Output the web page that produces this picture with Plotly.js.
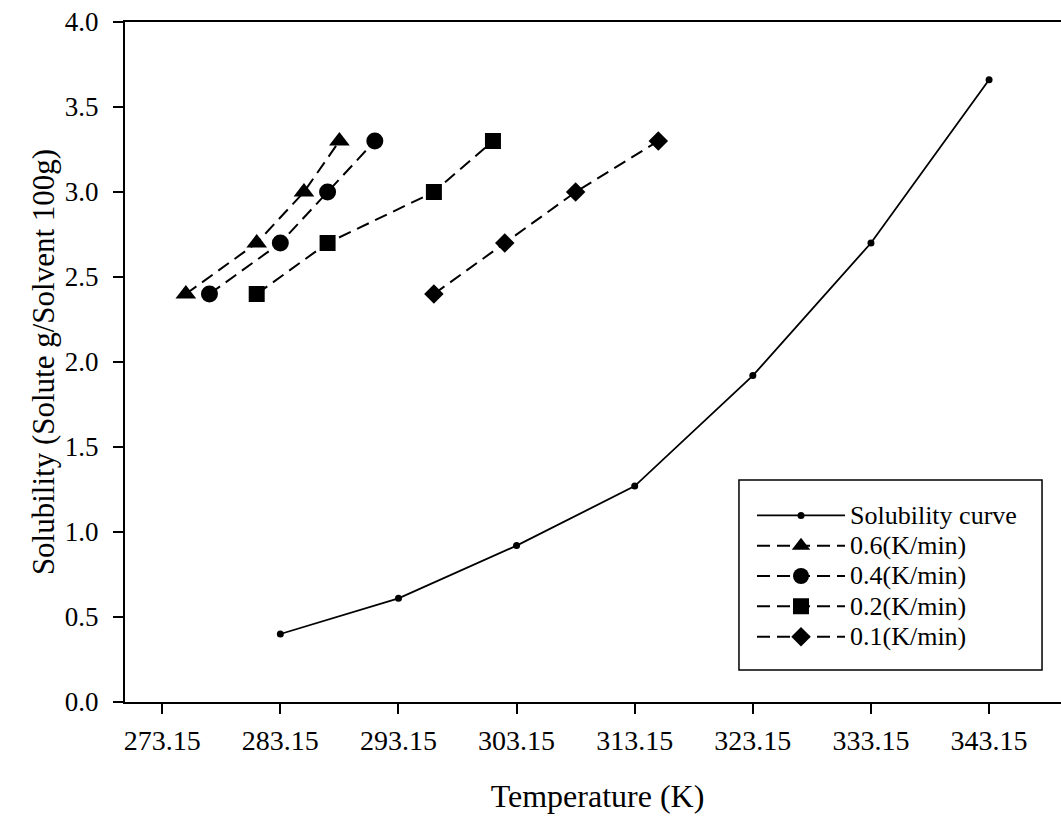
<!DOCTYPE html>
<html>
<head>
<meta charset="utf-8">
<script src="https://cdn.plot.ly/plotly-3.0.1.min.js"></script>
<style>
html, body { margin: 0; padding: 0; overflow: hidden; background: #fff; }
#chart { width: 1075px; height: 818px; }
</style>
</head>
<body>
<div id="chart"></div>
<script>
// Data
const solT = [283.15, 293.15, 303.15, 313.15, 323.15, 333.15, 343.15];
const solS = [0.40, 0.61, 0.92, 1.27, 1.92, 2.70, 3.66];

const r06T = [275.15, 281.15, 285.15, 288.15];
const r06S = [2.4, 2.7, 3.0, 3.3];

const r04T = [277.15, 283.15, 287.15, 291.15];
const r04S = [2.4, 2.7, 3.0, 3.3];

const r02T = [281.15, 287.15, 296.15, 301.15];
const r02S = [2.4, 2.7, 3.0, 3.3];

const r01T = [296.15, 302.15, 308.15, 315.15];
const r01S = [2.4, 2.7, 3.0, 3.3];

const seriesNames = ['Solubility curve', '0.6(K/min)', '0.4(K/min)', '0.2(K/min)', '0.1(K/min)'];
const xTicks = [273.15, 283.15, 293.15, 303.15, 313.15, 323.15, 333.15, 343.15];
const yTicks = [0.0, 0.5, 1.0, 1.5, 2.0, 2.5, 3.0, 3.5, 4.0];

const FONT = 'Liberation Serif, Times New Roman, serif';
const dash = '13px,7px';

function legendText(s) {
  return '<span style="font-size:26px">' + s + '</span>';
}

function dashed(x, y, name, symbol, size) {
  return {
    x: x, y: y, name: legendText(name), type: 'scatter', mode: 'lines+markers',
    line: {color: '#000', width: 2, dash: dash},
    marker: {symbol: symbol, size: size, color: '#000'}
  };
}

const traces = [
  {
    x: solT, y: solS, name: legendText(seriesNames[0]), type: 'scatter', mode: 'lines+markers',
    line: {color: '#000', width: 1.8},
    marker: {symbol: 'circle', size: 7, color: '#000'}
  },
  dashed(r06T, r06S, seriesNames[1], 'triangle-up', 18),
  dashed(r04T, r04S, seriesNames[2], 'circle', 17),
  dashed(r02T, r02S, seriesNames[3], 'square', 16),
  dashed(r01T, r01S, seriesNames[4], 'diamond', 15)
];

const layout = {
  width: 1075, height: 818,
  margin: {l: 125, r: 5, t: 22, b: 116},
  paper_bgcolor: '#fff', plot_bgcolor: '#fff',
  font: {family: FONT, color: '#000', size: 27},
  showlegend: true,
  legend: {
    x: 0.6635, y: 0.304, xanchor: 'left', yanchor: 'top',
    bgcolor: 'rgba(0,0,0,0)', borderwidth: 0,
    font: {family: FONT, size: 21, color: '#000'},
    itemwidth: 88
  },
  shapes: [{
    type: 'rect', xref: 'paper', yref: 'paper',
    x0: 0.6497, x1: 0.9704, y0: 0.0471, y1: 0.3265,
    line: {color: '#000', width: 1.5}, fillcolor: 'rgba(0,0,0,0)', layer: 'above'
  }],
  xaxis: {
    range: [270, 350],
    tickvals: xTicks, ticktext: xTicks.map(v => v.toFixed(2)),
    ticks: 'outside', ticklen: 10, tickwidth: 2, tickcolor: '#000',
    ticklabelstandoff: 2,
    showline: true, linecolor: '#000', linewidth: 2, mirror: true,
    showgrid: false, zeroline: false,
    tickfont: {family: FONT, size: 28, color: '#000'},
    title: {text: 'Temperature (K)', font: {family: FONT, size: 32, color: '#000'}, standoff: 30}
  },
  yaxis: {
    range: [0, 4],
    tickvals: yTicks, ticktext: yTicks.map(v => v.toFixed(1)),
    ticks: 'outside', ticklen: 10, tickwidth: 2, tickcolor: '#000',
    ticklabelstandoff: 9,
    showline: true, linecolor: '#000', linewidth: 2, mirror: false,
    showgrid: false, zeroline: false,
    tickfont: {family: FONT, size: 27, color: '#000'},
    title: {text: 'Solubility (Solute g/Solvent 100g)', font: {family: FONT, size: 31, color: '#000'}, standoff: 1}
  }
};

Plotly.newPlot('chart', traces, layout, {displayModeBar: false, staticPlot: true});
</script>
</body>
</html>
